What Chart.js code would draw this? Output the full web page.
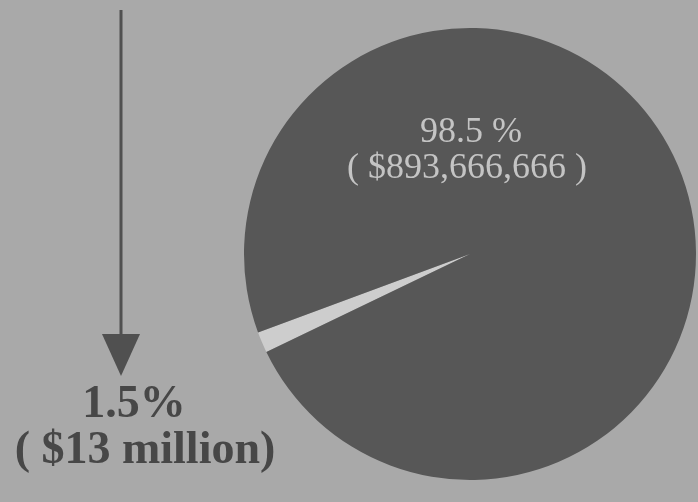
<!DOCTYPE html>
<html>
<head>
<meta charset="utf-8">
<script src="https://cdn.jsdelivr.net/npm/chart.js@4/dist/chart.umd.min.js"></script>
<style>
    html, body { margin: 0; padding: 0; background: #a9a9a9; overflow: hidden; }
    canvas { display: block; }
</style>
</head>
<body>
<canvas id="pieChart" width="698" height="502"></canvas>
<script>
// data
const categories = ['small share', 'rest'];
const shares = [1.5, 98.5];
const amounts = ['$13 million', '$893,666,666'];
const sliceColors = ['#cdcdcd', '#575757'];

// labels drawn on top of the pie, plus the arrow on the left
const labelPlugin = {
    id: 'labelPlugin',
    afterDraw(chart) {
        const ctx = chart.ctx;
        const arcs = chart.getDatasetMeta(0).data;
        const big = arcs[1];
        ctx.save();
        ctx.textAlign = 'center';
        ctx.textBaseline = 'middle';

        // big slice label
        ctx.fillStyle = '#c4c4c4';
        ctx.font = '36px "Liberation Serif", "DejaVu Serif", serif';
        ctx.fillText(shares[1] + ' %', big.x + 1, big.y - 121);
        ctx.fillText('( ' + amounts[1] + ' )', big.x - 3, big.y - 85);

        // arrow
        ctx.strokeStyle = '#505050';
        ctx.fillStyle = '#505050';
        ctx.lineWidth = 3;
        ctx.beginPath();
        ctx.moveTo(121, 10);
        ctx.lineTo(121, 340);
        ctx.stroke();
        ctx.beginPath();
        ctx.moveTo(102, 334);
        ctx.lineTo(140, 334);
        ctx.lineTo(121, 376);
        ctx.closePath();
        ctx.fill();

        // small slice label
        ctx.fillStyle = '#474747';
        ctx.font = 'bold 46px "Liberation Serif", "DejaVu Serif", serif';
        ctx.fillText(shares[0] + '%', 134, 405);
        ctx.fillText('( ' + amounts[0] + ')', 145, 451);
        ctx.restore();
    }
};

const ctx = document.getElementById('pieChart').getContext('2d');
new Chart(ctx, {
    type: 'pie',
    data: {
        labels: categories,
        datasets: [{
            data: shares,
            backgroundColor: sliceColors,
            borderWidth: 0
        }]
    },
    options: {
        responsive: false,
        animation: false,
        rotation: 244.3,
        layout: { padding: { left: 244, right: 2, top: 28, bottom: 22 } },
        plugins: {
            legend: { display: false },
            tooltip: { enabled: false }
        }
    },
    plugins: [labelPlugin]
});
</script>
</body>
</html>
